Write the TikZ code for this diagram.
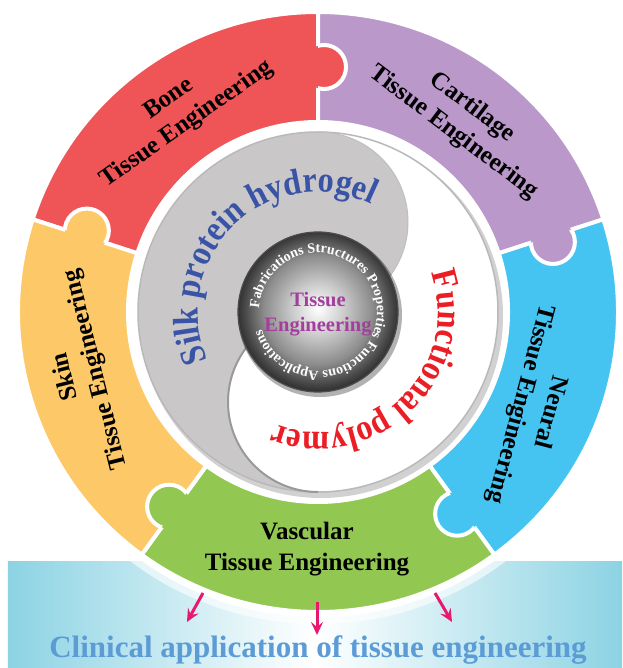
\documentclass[tikz,border=0pt]{standalone}
\usepackage{fontspec}
\setmainfont{Liberation Serif}
\newfontfamily\arcfont[FakeStretch=0.9]{Liberation Serif}
\usetikzlibrary{arrows.meta}
\usetikzlibrary{calc}
\usetikzlibrary{decorations.text}

\definecolor{bonec}{RGB}{239,84,87}
\definecolor{cartc}{RGB}{186,152,202}
\definecolor{neurc}{RGB}{70,196,241}
\definecolor{vascc}{RGB}{146,199,82}
\definecolor{skinc}{RGB}{253,201,104}
\definecolor{diskc}{RGB}{202,199,200}
\definecolor{silkc}{RGB}{57,84,166}
\definecolor{funcc}{RGB}{235,30,38}
\definecolor{tissc}{RGB}{163,62,157}
\definecolor{arrowc}{RGB}{232,24,110}
\definecolor{clinc}{RGB}{92,156,214}
\definecolor{bandc}{RGB}{140,211,227}

\pgfdeclareradialshading{ballshade}{\pgfpoint{0bp}{1bp}}{color(0bp)=(white); color(8bp)=(white!80!black); color(17bp)=(black!45); color(23bp)=(black!72); color(25bp)=(black!80); color(50bp)=(black!80)}

\begin{document}
\begin{tikzpicture}[
        x=1pt, y=1pt,
        segment/.style={draw=white, line width=4pt},
        segtext/.style={align=center, text=black, font=\fontsize{25}{31}\selectfont\bfseries},
        pinkarrow/.style={-{Stealth[length=13pt, width=12pt, inset=5pt]}, line width=3pt, arrowc}
    ]
        \useasboundingbox (-318,-356) rectangle (304,312);
        \fill[white] (-318,-356) rectangle (304,312);

        % --- Banda inferior ---
        \shade[left color=bandc, right color=bandc, middle color=white] (-310,-356) rectangle (304,-249);
        \fill[white, opacity=.6] (0,0) circle (312);
        \fill[white] (0,0) circle (305);

        % --- Piezas del anillo ---
        \foreach \col/\a in {bonec/90, cartc/18, neurc/-54, vascc/-126, skinc/-198}
            \draw[segment, fill=\col] (\a:190) arc (\a:\a+72:190) -- (\a+72:300) arc (\a+72:\a:300) -- cycle;

        % Pestanas (una por pieza, hacia la siguiente)
        \foreach \col/\a in {bonec/90, cartc/18, neurc/-54, vascc/-126, skinc/-198} {
            \coordinate (k) at ($(\a:245)+(\a-90:6)$);
            \fill[\col] (k) circle (22);
            \begin{scope}
                \clip (0,0) -- (\a:400) -- (\a-45:400) -- cycle;
                \draw[white, line width=4pt] (k) circle (22);
            \end{scope}
        }

        \node[segtext, rotate=35] (bone) at (-140,200) {Bone\\Tissue Engineering};
        \node[segtext, rotate=-37] (cart) at (145,192) {Cartilage\\Tissue Engineering};
        \node[segtext, rotate=-105] (neur) at (217,-96) {Neural\\Tissue Engineering};
        \node[segtext] (vasc) at (-11,-237) {Vascular\\Tissue Engineering};
        \node[segtext, rotate=104] (skin) at (-237,-61) {Skin\\Tissue Engineering};

        % --- Disco central (yin-yang) ---
        \fill[black, opacity=.18] (3,-4) circle (182);
        \fill[white] (0,0) circle (180);
        \fill[diskc] (0,180) arc (90:270:180) arc (-90:-270:90) arc (-90:90:90) -- cycle;
        \draw[gray!55, line width=1.5pt] (0,0) circle (180);
        \draw[black!40, line width=2pt] (0,-180) arc (-90:-270:90); % borde del lobulo blanco
        \draw[gray!50, line width=1pt] (0,0) arc (-90:90:90);

        \path[decorate, decoration={text along path, text align=center, text color=silkc,
            text={|\fontsize{36}{36}\arcfont\bfseries|Silk protein hydrogel}}]
            (223.5:120) arc (223.5:43.5:120);
        \path[decorate, decoration={text along path, text align=center, text color=funcc,
            text={|\fontsize{36}{36}\arcfont\bfseries|Functional polymer}}]
            (43.9:120) arc (43.9:-136.1:120);

        % --- Esfera ---
        \fill[black, opacity=.3] (2,-3) circle (82);
        \shade[shading=ballshade] (0,0) circle (80);
        \draw[black!70, line width=1.2pt] (0,0) circle (80);
        \path[decorate, decoration={text along path, text align=center, text color=white,
            text={|\fontsize{14}{14}\selectfont\bfseries|Fabrications Structures Properties Functions Applications}}]
            (187:59) arc (187:-173:59);
        \node[align=center, text=tissc, font=\fontsize{20.5}{25}\selectfont\bfseries] (core) at (0,-2) {Tissue\\Engineering};

        % --- Flechas ---
        \coordinate (a1s) at (-115,-281); \coordinate (a1e) at (-131,-310);
        \coordinate (a2s) at (-1,-290);   \coordinate (a2e) at (-1,-323);
        \coordinate (a3s) at (117,-281);  \coordinate (a3e) at (134,-310);
        \draw[pinkarrow] (a1s) -- (a1e);
        \draw[pinkarrow] (a2s) -- (a2e);
        \draw[pinkarrow] (a3s) -- (a3e);

        % --- Texto inferior ---
        \node[anchor=base, text=clinc, font=\fontsize{31}{31}\selectfont\bfseries] (clin) at (0,-345) {Clinical application of tissue engineering};

    \end{tikzpicture}
\end{document}
